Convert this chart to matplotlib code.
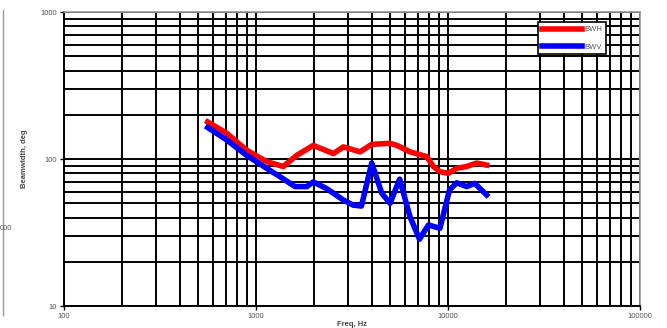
import matplotlib.pyplot as plt
from matplotlib.lines import Line2D

# datos
freq_h = [560, 703, 893, 1137, 1387, 1629, 1987, 2529, 2851, 3483, 4005,
          4990, 5406, 6340, 7740, 8390, 9080, 10030, 11090, 12500, 14090, 15890]
bw_h = [179, 150, 115, 96, 89, 106, 124, 109, 121, 112, 126,
        128, 124, 112, 104, 89, 82, 80, 86.5, 89, 94, 91]

freq_v = [560, 703, 893, 1137, 1330, 1596, 1840, 1987, 2330, 2851, 3203, 3540,
          4005, 4520, 4990, 5600, 6340, 7100, 7910, 9080, 10170, 11090,
          12500, 13770, 15890]
bw_v = [164, 135, 106, 86.5, 76, 65, 65, 70, 63, 52.6, 48.6, 47.9,
        94, 58.5, 50, 73, 40.5, 28.5, 35.6, 33.8, 61.5, 69,
        65, 68.4, 57]

plt.rcParams['font.family'] = ['Liberation Sans', 'DejaVu Sans']

fig = plt.figure(figsize=(6.67, 3.28), dpi=100)
ax = fig.add_axes([0.096, 0.067, 0.8635, 0.896])

ax.plot(freq_h, bw_h, color='#ff0000', lw=4, label='BWH', solid_joinstyle='round')
ax.plot(freq_v, bw_v, color='#0000ff', lw=4, label='BWV', solid_joinstyle='round')

ax.set_xscale('log')
ax.set_yscale('log')
ax.set_xlim(100, 100000)
ax.set_ylim(10, 1000)

ax.grid(True, which='both', color='black', lw=1.4)
ax.set_axisbelow(True)

ax.set_xticks([100, 1000, 10000, 100000])
ax.set_xticklabels(['100', '1000', '10000', '100000'])
ax.set_yticks([10, 100, 1000])
ax.set_yticklabels(['10', '100', '1000'])
ax.tick_params(which='major', direction='out', length=3, width=1,
               labelsize=5.5, labelcolor='#555555', pad=2)
ax.tick_params(which='minor', length=0)

for s in ['left', 'bottom']:
    ax.spines[s].set_color('black')
    ax.spines[s].set_linewidth(1.4)
for s in ['top', 'right']:
    ax.spines[s].set_color('#999999')
    ax.spines[s].set_linewidth(1.2)

ax.set_xlabel('Freq, Hz', fontsize=5.5, fontweight='bold', color='#444444', labelpad=1)
ax.set_ylabel('Beamwidth, deg', fontsize=5.5, fontweight='bold', color='#444444', labelpad=9)

leg = ax.legend(loc='upper left', bbox_to_anchor=(0.823, 0.966), fontsize=5.5,
                handlelength=5.3, handletextpad=0.2, labelspacing=1.3,
                borderpad=0.5, borderaxespad=0, fancybox=False, framealpha=1,
                edgecolor='black')
leg.get_frame().set_linewidth(1.2)
for t in leg.get_texts():
    t.set_color('#555555')

# resto del grafico vecino a la izquierda
fig.add_artist(Line2D([0.005, 0.005], [0.04, 0.97], color='#999999', lw=1))
fig.text(0.0, 0.300, '000', fontsize=5.5, color='#555555')

fig.savefig('out.png', dpi=100)
